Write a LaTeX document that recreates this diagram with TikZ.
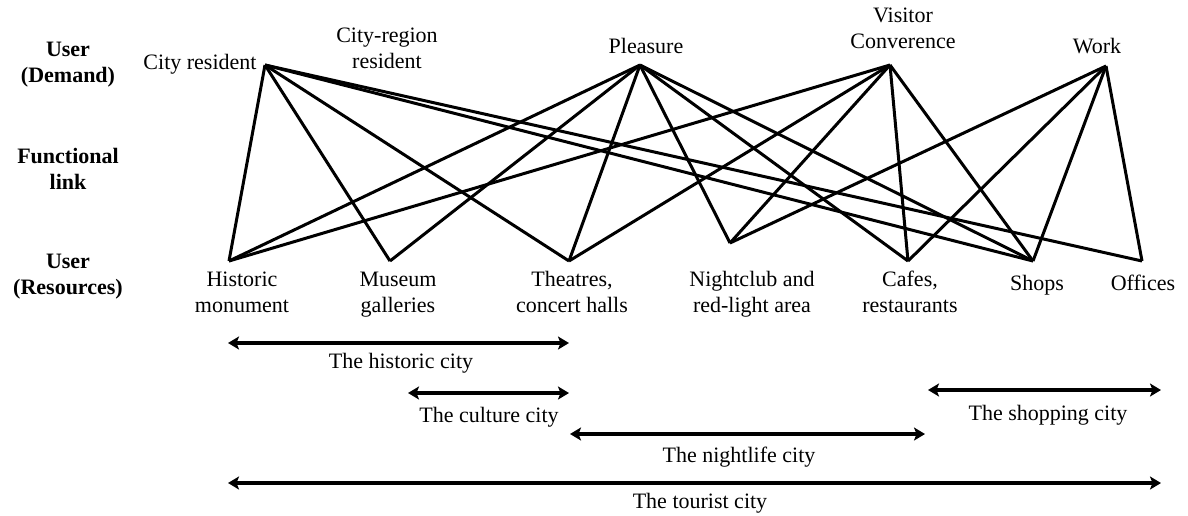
\documentclass[tikz,border=0pt]{standalone}
\usepackage{fontspec}
\setmainfont{Liberation Serif}
\usetikzlibrary{arrows.meta}
\newcommand{\mktwo}[2]{\begin{tabular}[t]{@{}c@{}}#1\\#2\end{tabular}}
\begin{document}
\begin{tikzpicture}[x=1pt,y=-1pt,
  lbl/.style={font=\fontsize{22}{26}\selectfont, inner sep=0pt, anchor=base},
  hdr/.style={font=\fontsize{22}{26}\selectfont\bfseries, inner sep=0pt, anchor=base},
  link/.style={line width=3pt},
  span/.style={line width=3.8pt, {Stealth[length=11pt,width=13pt,inset=2.5pt]}-{Stealth[length=11pt,width=13pt,inset=2.5pt]}}]
\useasboundingbox (0,0) rectangle (1188,515);

% left headers
\node[hdr] (hdem) at (68,56) {\mktwo{User}{(Demand)}};
\node[hdr] (hfun) at (68,163) {\mktwo{Functional}{link}};
\node[hdr] (hres) at (68,268) {\mktwo{User}{(Resources)}};

% demand labels
\node[lbl] (tcr) at (200,69) {City resident};
\node[lbl] (tcrr) at (387,42) {\mktwo{City-region}{resident}};
\node[lbl] (tpl) at (646,53) {Pleasure};
\node[lbl] (tvc) at (903,22) {\mktwo{Visitor}{Converence}};
\node[lbl] (twk) at (1097,53) {Work};

% resource labels
\node[lbl] (thm) at (242,286) {\mktwo{Historic}{monument}};
\node[lbl] (tmg) at (398,286) {\mktwo{Museum}{galleries}};
\node[lbl] (tth) at (572,286) {\mktwo{Theatres,}{concert halls}};
\node[lbl] (tnc) at (752,286) {\mktwo{Nightclub and}{red-light area}};
\node[lbl] (tcf) at (910,286) {\mktwo{Cafes,}{restaurants}};
\node[lbl] (tsh) at (1037,290) {Shops};
\node[lbl] (tof) at (1143,290) {Offices};

% link points
\coordinate (cr) at (265,65);
\coordinate (pl) at (640,65);
\coordinate (vc) at (890,65);
\coordinate (wk) at (1106,66);
\coordinate (hm) at (229,261);
\coordinate (mg) at (390,261);
\coordinate (th) at (569,261);
\coordinate (nc) at (730,243);
\coordinate (cf) at (908,261);
\coordinate (sh) at (1033,261);
\coordinate (of) at (1142,261);

% functional links
\foreach \t in {hm,mg,th,sh,of} \draw[link] (cr) -- (\t);
\foreach \t in {hm,mg,th,nc,cf,sh} \draw[link] (pl) -- (\t);
\foreach \t in {hm,th,nc,cf,sh} \draw[link] (vc) -- (\t);
\foreach \t in {nc,cf,sh,of} \draw[link] (wk) -- (\t);

% city spans
\coordinate (h1) at (228,343); \coordinate (h2) at (569,343);
\coordinate (c1) at (408,393); \coordinate (c2) at (569,393);
\coordinate (n1) at (570,434); \coordinate (n2) at (925,434);
\coordinate (s1) at (928,390); \coordinate (s2) at (1161,390);
\coordinate (u1) at (228,483); \coordinate (u2) at (1161,483);
\draw[span] (h1) -- (h2);
\draw[span] (c1) -- (c2);
\draw[span] (n1) -- (n2);
\draw[span] (s1) -- (s2);
\draw[span] (u1) -- (u2);

\node[lbl] (thist) at (401,368) {The historic city};
\node[lbl] (tcult) at (489,422) {The culture city};
\node[lbl] (tnight) at (739,462) {The nightlife city};
\node[lbl] (tshop) at (1048,420) {The shopping city};
\node[lbl] (ttour) at (700,508) {The tourist city};
\end{tikzpicture}
\end{document}
